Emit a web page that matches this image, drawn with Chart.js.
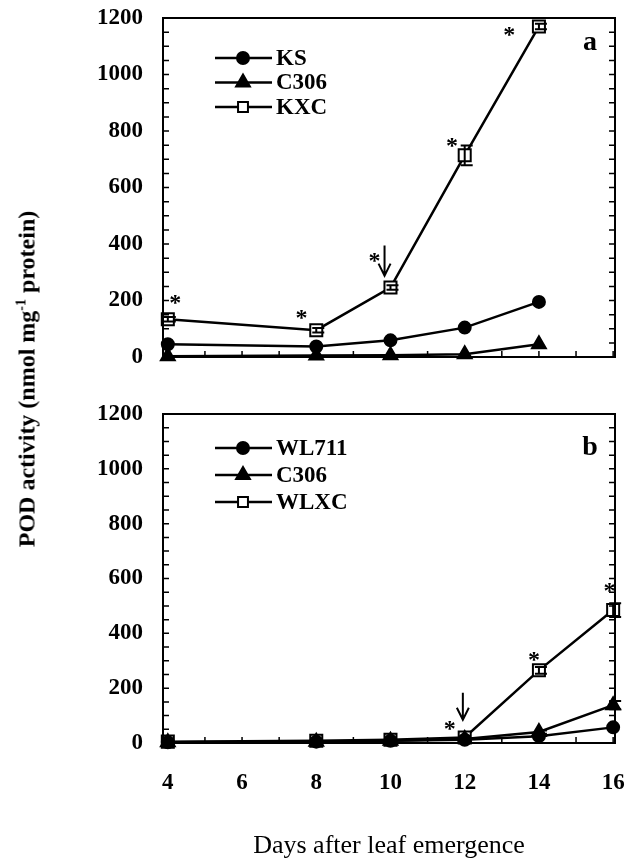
<!DOCTYPE html>
<html>
<head>
<meta charset="utf-8">
<script src="https://cdn.jsdelivr.net/npm/chart.js@4.4.1/dist/chart.umd.min.js"></script>
<style>
  html, body { margin: 0; padding: 0; background: #fff; }
  #wrap { position: relative; width: 632px; height: 862px; }
  canvas { position: absolute; left: 0; }
  #chartA { top: 0; }
  #chartB { top: 400px; }
  #ytitle {
    position: absolute; left: 27px; top: 379px; width: 440px; text-align: center;
    transform: translate(-50%, -50%) rotate(-90deg);
    font: bold 24px "Liberation Serif", serif; white-space: nowrap; color: #000;
  }
  #ytitle sup { font-size: 14px; vertical-align: super; line-height: 0; }
</style>
</head>
<body>
<div id="wrap">
  <canvas id="chartA" width="632" height="400"></canvas>
  <canvas id="chartB" width="632" height="462"></canvas>
  <div id="ytitle">POD activity (nmol mg<sup>-1</sup> protein)</div>
</div>
<script>
const yTicks = [0, 200, 400, 600, 800, 1000, 1200];
const xTicks = [4, 6, 8, 10, 12, 14, 16];

// panel a
const daysA = [4, 8, 10, 12, 14];
const ksA = [45, 37, 59, 104, 195];
const c306A = [3, 5, 6, 10, 45];
const kxcA = [134, 95, 246, 714, 1170];
const kxcErrA = [8, 8, 8, 35, 10];
const starXA = [4.2, 7.6, 9.57, 11.66, 13.2];
const starYA = [205, 152, 353, 762, 1153];
const arrowA = [9.84, 395, 288]; // day, from, to

// panel b
const daysB = [4, 8, 10, 12, 14, 16];
const wl711B = [3, 5, 8, 12, 25, 57];
const c306B = [3, 5, 8, 15, 40, 138];
const wlxcB = [5, 8, 12, 20, 265, 485];
const wlxcErrB = [0, 0, 0, 0, 12, 25];
const c306ErrB = [0, 0, 0, 0, 6, 15];
const starXB = [11.6, 13.87, 15.9];
const starYB = [67, 317, 568];
const arrowB = [11.95, 183, 85];

const SERIF = '"Liberation Serif", "Times New Roman", serif';

const styles = {
  circle: { pointStyle: 'circle', pointRadius: 6, pointBackgroundColor: '#000', fill: '#000' },
  triangle: { pointStyle: 'triangle', pointRadius: 8, pointBackgroundColor: '#000', fill: '#000' },
  square: { pointStyle: 'rect', pointRadius: 8.5, pointBackgroundColor: '#fff', fill: '#fff' },
};

function series(label, days, vals, style, order) {
  const s = styles[style];
  return {
    label,
    data: days.map((d, i) => ({ x: d, y: vals[i] })),
    borderColor: '#000',
    borderWidth: 2.5,
    pointBorderColor: '#000',
    pointBorderWidth: 2,
    pointStyle: s.pointStyle,
    pointRadius: s.pointRadius,
    pointBackgroundColor: s.pointBackgroundColor,
    tension: 0,
    clip: false,
    order,
    markStyle: style,
  };
}

function mark(ctx, style, x, y, r) {
  ctx.beginPath();
  if (style === 'circle') {
    ctx.arc(x, y, r, 0, Math.PI * 2);
  } else if (style === 'triangle') {
    ctx.moveTo(x, y - r);
    ctx.lineTo(x + r * 0.866, y + r * 0.5);
    ctx.lineTo(x - r * 0.866, y + r * 0.5);
    ctx.closePath();
  } else {
    const s = r * Math.SQRT1_2;
    ctx.rect(x - s, y - s, 2 * s, 2 * s);
  }
  ctx.fillStyle = styles[style].fill;
  ctx.fill();
  ctx.stroke();
}

const deco = {
  id: 'deco',
  afterDatasetsDraw(chart, args, o) {
    const { ctx, scales: { x, y } } = chart;
    ctx.save();
    ctx.strokeStyle = '#000';
    ctx.lineWidth = 2;
    // error bars
    o.errors.forEach(e => {
      chart.data.datasets[e.ds].data.forEach((p, i) => {
        const err = e.values[i];
        if (!err) return;
        const px = x.getPixelForValue(p.x);
        const hi = y.getPixelForValue(p.y + err);
        const lo = y.getPixelForValue(p.y - err);
        ctx.beginPath();
        ctx.moveTo(px, hi); ctx.lineTo(px, lo);
        ctx.moveTo(px - 4, hi); ctx.lineTo(px + 8, hi);
        ctx.moveTo(px - 4, lo); ctx.lineTo(px + 8, lo);
        ctx.stroke();
      });
    });
    ctx.restore();
  },
  afterDraw(chart, args, o) {
    const { ctx, chartArea: a, scales: { x, y } } = chart;
    ctx.save();
    ctx.strokeStyle = '#000';
    ctx.fillStyle = '#000';

    // frame
    ctx.lineWidth = 2;
    ctx.strokeRect(a.left, a.top, a.right - a.left, a.bottom - a.top);

    // inward tick marks
    ctx.lineWidth = 1.5;
    ctx.beginPath();
    for (let v = 50; v < y.max; v += 50) {
      const py = y.getPixelForValue(v);
      ctx.moveTo(a.left, py); ctx.lineTo(a.left + 6, py);
      ctx.moveTo(a.right, py); ctx.lineTo(a.right - 6, py);
    }
    for (let d = Math.ceil(x.min); d <= Math.floor(x.max); d++) {
      const px = x.getPixelForValue(d);
      ctx.moveTo(px, a.bottom); ctx.lineTo(px, a.bottom - 6);
    }
    ctx.stroke();

    // significance stars
    ctx.font = 'bold 24px ' + SERIF;
    ctx.textAlign = 'center';
    ctx.textBaseline = 'middle';
    o.starX.forEach((sx, i) => {
      ctx.fillText('*', x.getPixelForValue(sx), y.getPixelForValue(o.starY[i]) + 5);
    });

    // arrow
    const ax = x.getPixelForValue(o.arrow[0]);
    const ay0 = y.getPixelForValue(o.arrow[1]);
    const ay1 = y.getPixelForValue(o.arrow[2]);
    ctx.lineWidth = 2;
    ctx.beginPath();
    ctx.moveTo(ax, ay0); ctx.lineTo(ax, ay1);
    ctx.moveTo(ax - 6, ay1 - 12); ctx.lineTo(ax, ay1); ctx.lineTo(ax + 6, ay1 - 12);
    ctx.stroke();

    // legend
    ctx.font = 'bold 23px ' + SERIF;
    ctx.textAlign = 'left';
    chart.data.datasets.forEach((ds, i) => {
      const ly = a.top + o.legendTop + i * o.legendStep;
      const lx = a.left + 52;
      ctx.lineWidth = 2.5;
      ctx.beginPath();
      ctx.moveTo(lx, ly); ctx.lineTo(lx + 57, ly);
      ctx.stroke();
      ctx.lineWidth = 2;
      mark(ctx, ds.markStyle, lx + 28, ly, ds.markStyle === 'square' ? 7 : ds.markStyle === 'triangle' ? 8 : 6);
      ctx.fillStyle = '#000';
      ctx.textBaseline = 'middle';
      ctx.fillText(ds.label, lx + 61, ly + 1);
    });

    // panel letter
    ctx.font = 'bold 28px ' + SERIF;
    ctx.textAlign = 'center';
    ctx.textBaseline = 'alphabetic';
    ctx.fillText(o.letter, a.right - 25, a.top + o.letterY);

    ctx.restore();
  }
};

function makeChart(id, datasets, opts, box) {
  return new Chart(document.getElementById(id), {
    type: 'line',
    data: { datasets },
    options: {
      responsive: false,
      animation: false,
      events: [],
      layout: { autoPadding: false, padding: { left: 0, right: 17, top: box.top, bottom: 0 } },
      plugins: { legend: { display: false }, tooltip: { enabled: false }, deco: opts },
      scales: {
        x: {
          type: 'linear', min: 3.87, max: 16.05,
          grid: { display: false, drawTicks: false }, border: { display: false },
          afterBuildTicks: s => { s.ticks = xTicks.map(v => ({ value: v })); },
          afterFit: s => { s.height = box.xh; s.paddingLeft = 0; s.paddingRight = 0; },
          ticks: { display: box.xLabels, padding: 26, color: '#000', callback: v => String(v),
                   font: { family: SERIF, size: 23, weight: 'bold' } },
          title: { display: box.xLabels, text: 'Days after leaf emergence', color: '#000', padding: 0,
                   font: { family: SERIF, size: 26, weight: 'normal' } }
        },
        y: {
          min: 0, max: 1200,
          grid: { display: false, drawTicks: false }, border: { display: false },
          afterBuildTicks: s => { s.ticks = yTicks.map(v => ({ value: v })); },
          afterFit: s => { s.width = 163; s.paddingTop = 0; s.paddingBottom = 0; },
          ticks: { padding: 20, color: '#000', callback: v => String(v),
                   font: { family: SERIF, size: 23, weight: 'bold' } }
        }
      }
    },
    plugins: [deco]
  });
}

makeChart('chartA', [
  series('KS', daysA, ksA, 'circle', 1),
  series('C306', daysA, c306A, 'triangle', 2),
  series('KXC', daysA, kxcA, 'square', 3),
], {
  errors: [{ ds: 2, values: kxcErrA }],
  starX: starXA, starY: starYA, arrow: arrowA,
  legendTop: 40, legendStep: 24.5, letter: 'a', letterY: 32
}, { top: 18, xh: 43, xLabels: false });

makeChart('chartB', [
  series('WL711', daysB, wl711B, 'circle', 1),
  series('C306', daysB, c306B, 'triangle', 2),
  series('WLXC', daysB, wlxcB, 'square', 3),
], {
  errors: [{ ds: 2, values: wlxcErrB }, { ds: 1, values: c306ErrB }],
  starX: starXB, starY: starYB, arrow: arrowB,
  legendTop: 34, legendStep: 27, letter: 'b', letterY: 41
}, { top: 14, xh: 119, xLabels: true });
</script>
</body>
</html>
